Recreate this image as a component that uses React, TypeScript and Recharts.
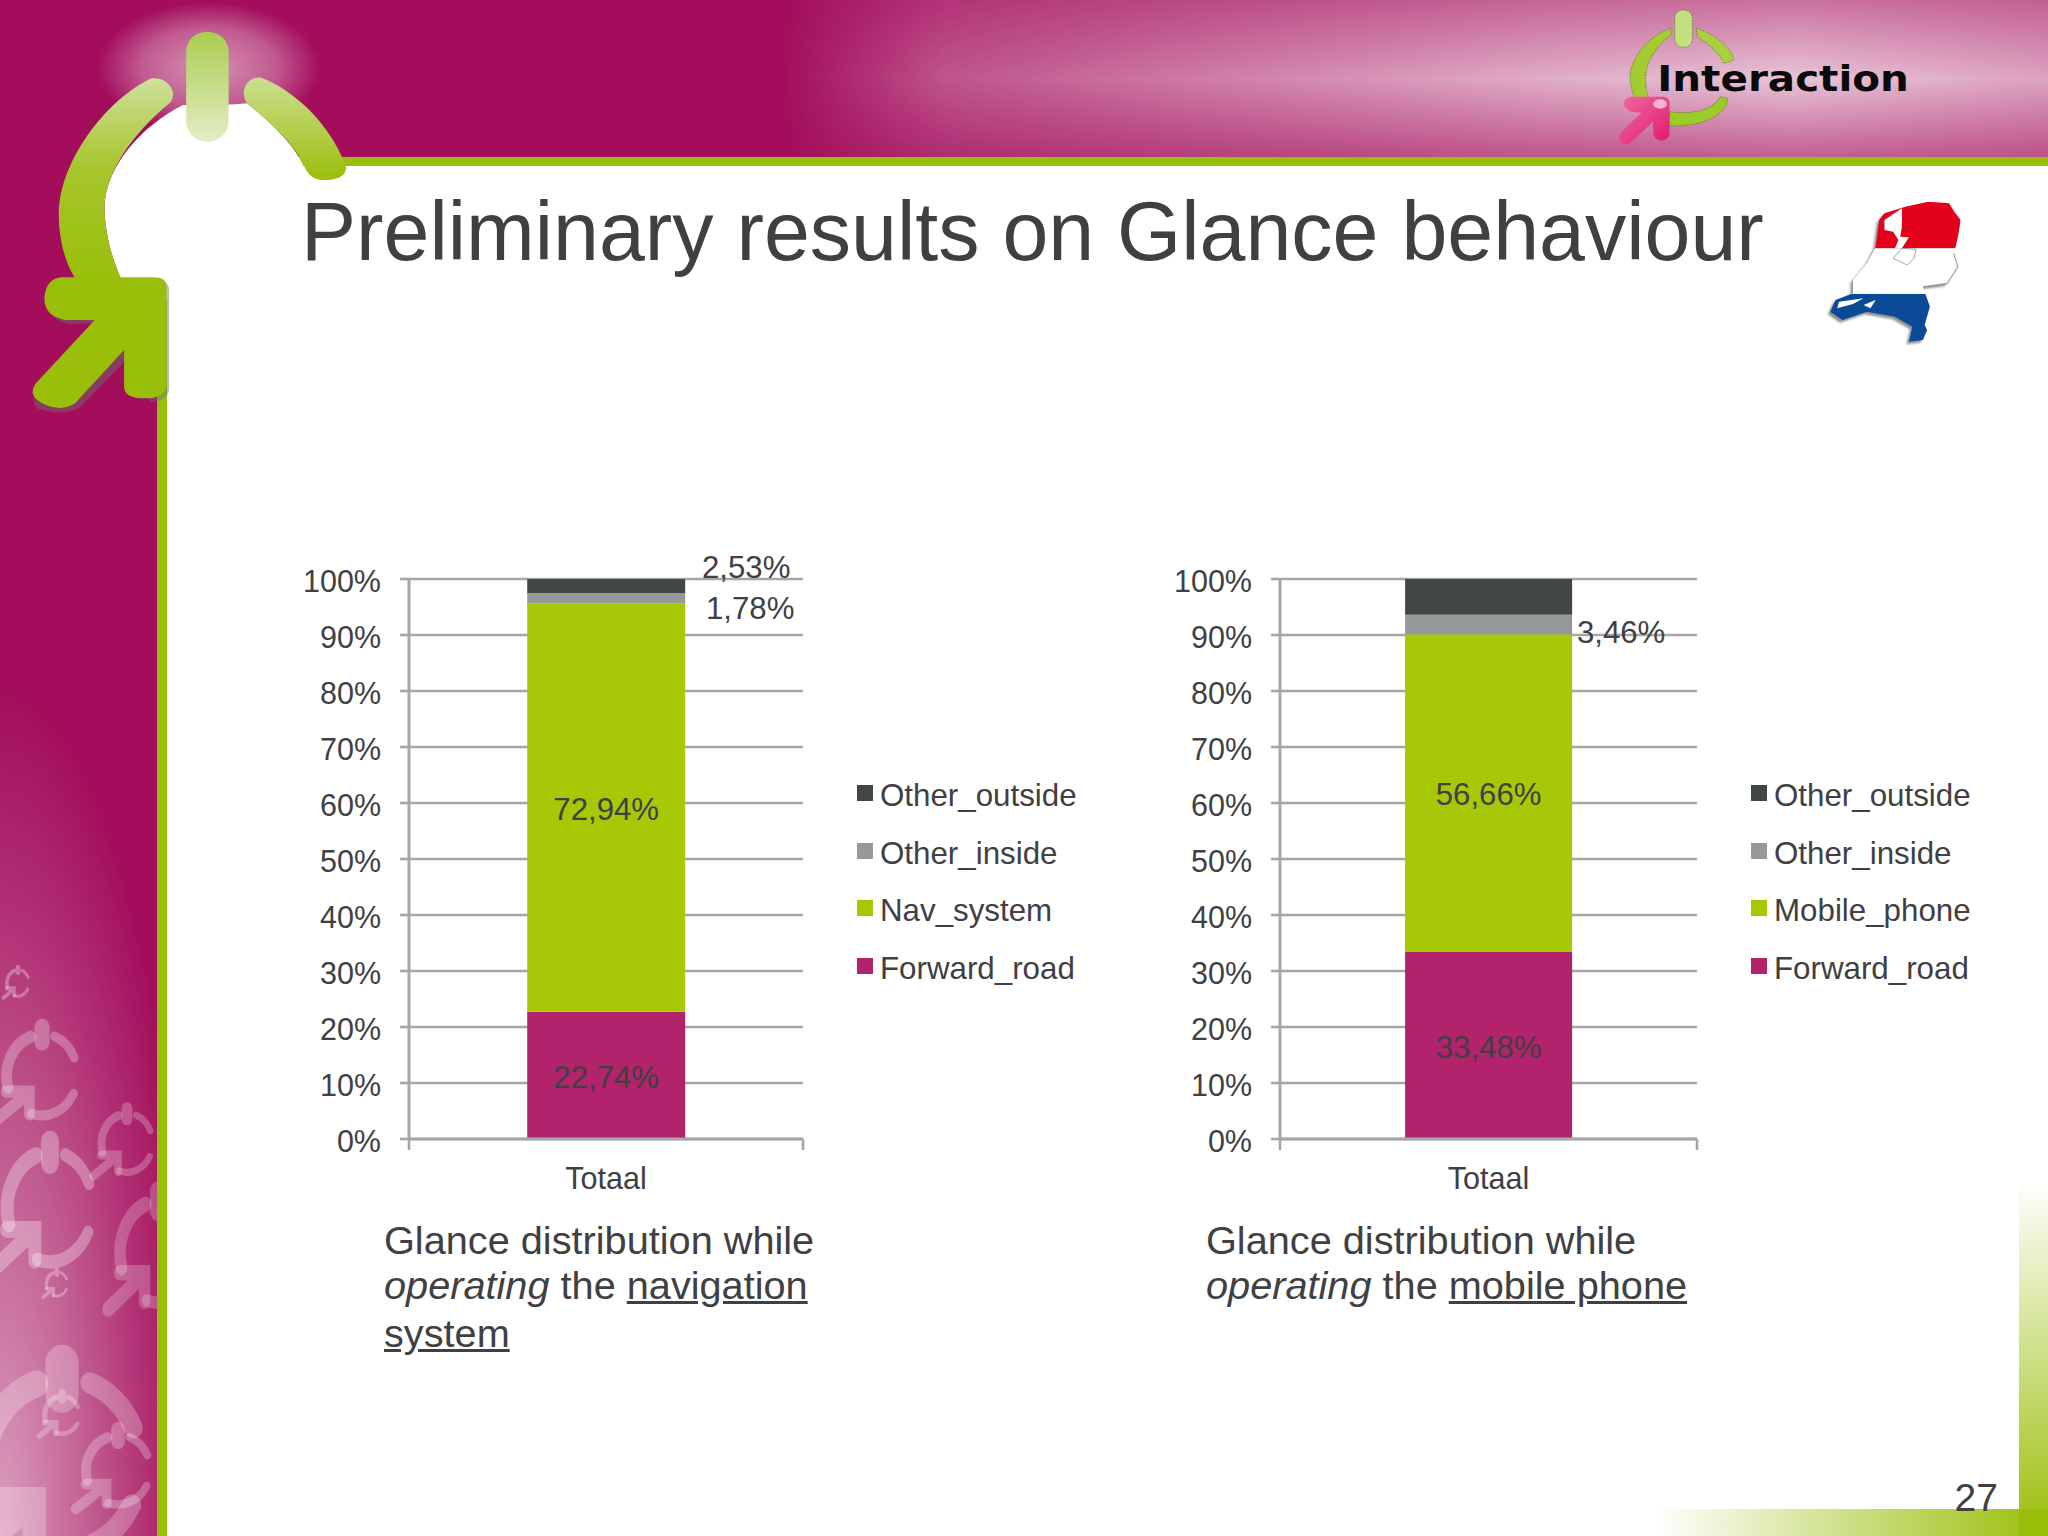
import React from "react";
import { BarChart, Bar, XAxis, YAxis, CartesianGrid, LabelList } from "recharts";

const categories = ["Totaal"];
const navForward = [22.74];
const navSystem = [72.94];
const navInside = [1.78];
const navOutside = [2.53];
const phoneForward = [33.48];
const phoneMobile = [56.66];
const phoneInside = [3.46];
const phoneOutside = [6.4];
const yTicks = [0, 10, 20, 30, 40, 50, 60, 70, 80, 90, 100];

const FONT = '"Liberation Sans", Arial, sans-serif';
const TEXT = "#404043";
const AXIS = "#a6a6a8";
const MAGENTA = "#a30d5b";
const GREEN = "#9abf0a";
const COLORS = { forward: "#b2236b", main: "#a6c807", inside: "#95999a", outside: "#414647" };

const rows = (forward: number[], main: number[], inside: number[], outside: number[]) =>
  categories.map((name, i) => ({ name, forward: forward[i], main: main[i], inside: inside[i], outside: outside[i] }));

const pct = (v: number) => v.toFixed(2).replace(".", ",") + "%";

function SegmentLabel(props: any) {
  const { x, y, width, height, value, dx = 0, dy = 2 } = props;
  return (
    <text
      x={x + width / 2 + dx}
      y={y + height / 2 + dy}
      textAnchor="middle"
      dominantBaseline="central"
      fill={TEXT}
      fontFamily={FONT}
      fontSize={31.2}
    >
      {pct(value)}
    </text>
  );
}

function YTick(props: any) {
  const { x, y, payload } = props;
  return (
    <text x={x} y={y + 2} textAnchor="end" dominantBaseline="central" fill={TEXT} fontFamily={FONT} fontSize={30.5}>
      {payload.value + "%"}
    </text>
  );
}

function XTick(props: any) {
  const { x, payload, band, axisY } = props;
  return (
    <g>
      <line x1={x - band / 2} x2={x - band / 2} y1={axisY} y2={axisY + 11} stroke={AXIS} strokeWidth={2.6} />
      <line x1={x + band / 2} x2={x + band / 2} y1={axisY} y2={axisY + 11} stroke={AXIS} strokeWidth={2.6} />
      <text x={x} y={axisY + 39} textAnchor="middle" dominantBaseline="central" fill={TEXT} fontFamily={FONT} fontSize={30.5}>
        {payload.value}
      </text>
    </g>
  );
}

function LegendBox({ items, left, top }: { items: { name: string; color: string }[]; left: number; top: number }) {
  return (
    <div style={{ position: "absolute", left, top, fontFamily: FONT, fontSize: 31.3, color: TEXT }}>
      {items.map((it) => (
        <div key={it.name} style={{ position: "relative", height: 57.6, width: 240, whiteSpace: "nowrap" }}>
          <span style={{ position: "absolute", left: 0, top: 0, width: 16, height: 16, background: it.color }} />
          <span style={{ position: "absolute", left: 23, top: -7, lineHeight: "36px" }}>{it.name}</span>
        </div>
      ))}
    </div>
  );
}

type ChartProps = {
  left: number;
  plotLeft: number;
  plotRight: number;
  data: any[];
  mainName: string;
  legendLeft: number;
  labelShift: { inside?: [number, number]; outside?: [number, number] };
  showInside: boolean;
  showOutside: boolean;
};

const TOP = 540;
const PLOT_TOP = 579;
const PLOT_BOTTOM = 1139;
const HEIGHT = 680;

function StackChart({ left, plotLeft, plotRight, data, mainName, legendLeft, labelShift, showInside, showOutside }: ChartProps) {
  const yAxisWidth = plotLeft - left;
  const width = plotRight - left + 2;
  const legendItems = [
    { name: "Other_outside", color: COLORS.outside },
    { name: "Other_inside", color: COLORS.inside },
    { name: mainName, color: COLORS.main },
    { name: "Forward_road", color: COLORS.forward },
  ];
  return (
    <div style={{ position: "absolute", left, top: TOP }}>
      <BarChart
        width={width + 300}
        height={HEIGHT}
        data={data}
        margin={{ top: PLOT_TOP - TOP, right: 302, bottom: HEIGHT - (PLOT_BOTTOM - TOP) - 60, left: 0 }}
        barCategoryGap="30%"
        style={{ overflow: "visible" }}
      >
        <CartesianGrid horizontal vertical={false} stroke={AXIS} strokeWidth={2.6} />
        <XAxis
          dataKey="name"
          height={60}
          axisLine={{ stroke: AXIS, strokeWidth: 3 }}
          tickLine={false}
          tick={(p: any) => <XTick {...p} band={plotRight - plotLeft} axisY={PLOT_BOTTOM - TOP} />}
        />
        <YAxis
          domain={[0, 100]}
          ticks={yTicks}
          width={yAxisWidth}
          axisLine={{ stroke: AXIS, strokeWidth: 3 }}
          tickLine={{ stroke: AXIS, strokeWidth: 2.6 }}
          tickSize={9}
          tickMargin={19}
          tick={(p: any) => <YTick {...p} />}
        />
        <Bar dataKey="forward" name="Forward_road" stackId="a" fill={COLORS.forward} isAnimationActive={false}>
          <LabelList dataKey="forward" content={(p: any) => <SegmentLabel {...p} />} />
        </Bar>
        <Bar dataKey="main" name={mainName} stackId="a" fill={COLORS.main} isAnimationActive={false}>
          <LabelList dataKey="main" content={(p: any) => <SegmentLabel {...p} />} />
        </Bar>
        <Bar dataKey="inside" name="Other_inside" stackId="a" fill={COLORS.inside} isAnimationActive={false}>
          {showInside && (
            <LabelList
              dataKey="inside"
              content={(p: any) => <SegmentLabel {...p} dx={labelShift.inside?.[0]} dy={labelShift.inside?.[1]} />}
            />
          )}
        </Bar>
        <Bar dataKey="outside" name="Other_outside" stackId="a" fill={COLORS.outside} isAnimationActive={false}>
          {showOutside && (
            <LabelList
              dataKey="outside"
              content={(p: any) => <SegmentLabel {...p} dx={labelShift.outside?.[0]} dy={labelShift.outside?.[1]} />}
            />
          )}
        </Bar>
      </BarChart>
      <LegendBox items={legendItems} left={legendLeft - left} top={785 - TOP} />
    </div>
  );
}

function WaterIcon({ cx, cy, w, h, op }: { cx: number; cy: number; w: number; h: number; op: number }) {
  return (
    <g transform={`translate(${cx} ${cy}) scale(${w / 2.4} ${h / 2.6})`} fill="none" stroke="#ffffff" strokeOpacity={op} strokeLinecap="round">
      <path d="M -0.32 -0.92 A 1 1 0 0 0 -0.95 0.3" strokeWidth={0.3} />
      <path d="M -0.3 0.93 A 1 1 0 0 0 0.88 0.45" strokeWidth={0.24} />
      <path d="M 0.35 -0.93 A 1 1 0 0 1 0.9 -0.42" strokeWidth={0.24} />
      <path d="M 0 -1.15 V -0.8" strokeWidth={0.42} />
      <path d="M -1.0 0.4 H -0.35 V 0.95 M -0.4 0.45 L -1.3 1.1" strokeWidth={0.3} />
    </g>
  );
}

function Decor() {
  const nl =
    "M1100 640 L1160 620 L1225 605 L1285 610 L1300 635 L1318 660 L1312 700 L1305 735 L1298 760 L1310 800 L1280 850 L1210 860 L1230 920 L1215 975 L1222 990 L1210 1020 L1170 1025 L1180 980 L1130 950 L1050 935 L980 960 L945 935 L960 900 L1010 880 L1010 840 L1050 790 L1075 740 L1085 660 Z";
  return (
    <svg width={2048} height={1536} style={{ position: "absolute", left: 0, top: 0 }}>
      <defs>
        <linearGradient id="hdrH" x1="780" x2="2048" y1="0" y2="0" gradientUnits="userSpaceOnUse">
          <stop offset="0" stopColor="#fff" stopOpacity={0} />
          <stop offset="0.13" stopColor="#fff" stopOpacity={0.3} />
          <stop offset="0.33" stopColor="#fff" stopOpacity={0.46} />
          <stop offset="0.6" stopColor="#fff" stopOpacity={0.66} />
          <stop offset="0.8" stopColor="#fff" stopOpacity={0.76} />
          <stop offset="1" stopColor="#fff" stopOpacity={0.62} />
        </linearGradient>
        <linearGradient id="hdrV" x1="0" x2="0" y1="0" y2="157" gradientUnits="userSpaceOnUse">
          <stop offset="0" stopColor="#fff" stopOpacity={0.55} />
          <stop offset="0.5" stopColor="#fff" stopOpacity={1} />
          <stop offset="1" stopColor="#fff" stopOpacity={0.45} />
        </linearGradient>
        <mask id="hdrMask" maskUnits="userSpaceOnUse" x="0" y="0" width="2048" height="157">
          <rect x={0} y={0} width={2048} height={157} fill="url(#hdrV)" />
        </mask>
        <radialGradient id="glow">
          <stop offset="0" stopColor="#fff" stopOpacity={0.55} />
          <stop offset="0.6" stopColor="#fff" stopOpacity={0.32} />
          <stop offset="1" stopColor="#fff" stopOpacity={0} />
        </radialGradient>
        <radialGradient id="sideGlow" cx="0" cy="1536" r="1" gradientUnits="userSpaceOnUse" gradientTransform="translate(0 1536) scale(200 850) translate(0 -1536)">
          <stop offset="0" stopColor="#fff" stopOpacity={0.6} />
          <stop offset="0.4" stopColor="#fff" stopOpacity={0.36} />
          <stop offset="0.75" stopColor="#fff" stopOpacity={0.14} />
          <stop offset="1" stopColor="#fff" stopOpacity={0} />
        </radialGradient>
        <linearGradient id="arcL" x1="0" x2="0" y1="235" y2="835" gradientUnits="userSpaceOnUse">
          <stop offset="0" stopColor="#cfe09a" />
          <stop offset="0.45" stopColor="#a6c62c" />
          <stop offset="1" stopColor={GREEN} />
        </linearGradient>
        <linearGradient id="arcR" x1="0" x2="0" y1="233" y2="540" gradientUnits="userSpaceOnUse">
          <stop offset="0" stopColor="#cbde90" />
          <stop offset="1" stopColor={GREEN} />
        </linearGradient>
        <linearGradient id="stem" x1="0" x2="0" y1="95" y2="425" gradientUnits="userSpaceOnUse">
          <stop offset="0" stopColor="#a9cc50" />
          <stop offset="1" stopColor="#e4edc6" />
        </linearGradient>
        <linearGradient id="cornerV" x1="0" x2="0" y1="1180" y2="1536" gradientUnits="userSpaceOnUse">
          <stop offset="0" stopColor={GREEN} stopOpacity={0} />
          <stop offset="1" stopColor={GREEN} stopOpacity={1} />
        </linearGradient>
        <linearGradient id="cornerH" x1="1655" x2="2048" y1="0" y2="0" gradientUnits="userSpaceOnUse">
          <stop offset="0" stopColor={GREEN} stopOpacity={0} />
          <stop offset="1" stopColor={GREEN} stopOpacity={1} />
        </linearGradient>
        <clipPath id="sideClip">
          <rect x={0} y={600} width={157} height={936} />
        </clipPath>
        <clipPath id="nlClip">
          <path d={nl} />
        </clipPath>
        <filter id="soft" x="-10%" y="-10%" width="120%" height="120%">
          <feGaussianBlur stdDeviation="3" />
        </filter>
        <linearGradient id="pinkArrow" x1="0" x2="1" y1="0" y2="1">
          <stop offset="0" stopColor="#f06aa0" />
          <stop offset="1" stopColor="#e01a70" />
        </linearGradient>
      </defs>

      <rect width={2048} height={1536} fill={MAGENTA} />
      <rect x={780} y={0} width={1268} height={157} fill="url(#hdrH)" mask="url(#hdrMask)" />
      <ellipse cx={209} cy={68} rx={112} ry={66} fill="url(#glow)" />
      <rect x={0} y={600} width={157} height={936} fill="url(#sideGlow)" />
      <g clipPath="url(#sideClip)">
        <WaterIcon cx={18} cy={983} w={27} h={35} op={0.3} />
        <WaterIcon cx={42} cy={1075} w={86} h={108} op={0.27} />
        <WaterIcon cx={50} cy={1207} w={104} h={146} op={0.3} />
        <WaterIcon cx={127} cy={1143} w={62} h={78} op={0.24} />
        <WaterIcon cx={57} cy={1284} w={26} h={32} op={0.3} />
        <WaterIcon cx={158} cy={1252} w={92} h={135} op={0.22} />
        <WaterIcon cx={62} cy={1415} w={42} h={50} op={0.26} />
        <WaterIcon cx={118} cy={1470} w={78} h={92} op={0.26} />
        <WaterIcon cx={62} cy={1465} w={190} h={230} op={0.25} />
      </g>

      <rect x={157} y={157} width={1891} height={9} fill={GREEN} />
      <rect x={157} y={157} width={10} height={1379} fill={GREEN} />
      <rect x={167} y={166} width={1881} height={1370} fill="#fff" />
      <rect x={2019} y={1180} width={29} height={356} fill="url(#cornerV)" />
      <rect x={1655} y={1509} width={393} height={27} fill="url(#cornerH)" />

      <g transform="scale(0.6532 0.3333)">
        <path
          d="M185 835 C170 770 160 690 160 620 C162 500 215 380 280 315 C310 316 345 316 378 310 C410 360 450 430 465 500 L470 900 L185 900 Z"
          fill="#fff"
        />
        <path d="M58 1226 Q44 1200 62 1160 L150 970 L106 972 Q74 962 74 905 Q76 845 101 842 L241 842 Q259 842 259 870 L259 1170 Q256 1205 230 1205 L198 1070 L123 1222 Q100 1250 58 1226 Z" fill="#6f6f72" opacity={0.45} />
        <path d="M232 235 C170 290 92 470 90 640 C90 720 100 790 115 835 L185 835 C170 770 160 690 160 620 C162 500 215 380 262 305 C272 270 255 230 232 235 Z" fill="url(#arcL)" />
        <path d="M400 233 C450 270 505 370 530 500 C530 530 515 540 495 540 C478 540 470 520 465 495 C450 430 410 360 378 310 C365 270 380 228 400 233 Z" fill="url(#arcR)" />
        <rect x={285} y={95} width={65} height={330} rx={32} ry={60} fill="url(#stem)" />
        <path d="M95 832 L235 832 Q255 832 255 860 L255 1160 Q250 1195 222 1195 Q190 1195 190 1160 L190 1050 L115 1210 Q95 1235 70 1215 Q40 1190 55 1150 L145 960 L100 960 Q68 950 68 895 Q70 835 95 832 Z" fill={GREEN} />
      </g>

      <g transform="translate(1500 0) scale(0.3495 0.3333)">
        <path d="M488 85 C420 110 372 180 372 230 C372 250 378 275 385 295 L425 295 C415 265 415 235 420 205 C430 165 460 125 490 105 Z" fill="#a2cc30" stroke="#5f7f20" strokeWidth={2} strokeDasharray="6 3" />
        <path d="M562 85 C610 100 660 140 670 180 L640 190 C625 155 590 125 565 112 Z" fill="#a8d040" stroke="#5f7f20" strokeWidth={2} strokeDasharray="6 3" />
        <path d="M485 335 C550 345 610 330 630 290 L652 295 C650 340 590 380 485 378 Z" fill="#9acb28" stroke="#5f7f20" strokeWidth={2} strokeDasharray="6 3" />
        <rect x={500} y={30} width={50} height={112} rx={24} ry={24} fill="#c2e080" stroke="#5f7f20" strokeWidth={2} strokeDasharray="6 3" />
        <path d="M375 290 L470 290 Q485 295 485 310 L485 405 Q480 422 460 422 Q440 418 438 400 L438 365 L372 430 Q355 440 342 420 Q336 405 350 392 L405 338 L375 335 Q355 325 355 310 Q358 292 375 290 Z" fill="url(#pinkArrow)" />
        <ellipse cx={458} cy={312} rx={20} ry={14} fill="#fff" opacity={0.6} />
        <text x={450} y={272} fontFamily='"DejaVu Sans", sans-serif' fontWeight={700} fontSize={108} fill="#0a0a0a" textLength={720} lengthAdjust="spacingAndGlyphs">
          Interaction
        </text>

        <path d={nl} transform="translate(-7 8)" fill="#444" opacity={0.6} filter="url(#soft)" />
        <g clipPath="url(#nlClip)">
          <rect x={900} y={590} width={450} height={155} fill="#e2001a" />
          <rect x={900} y={745} width={450} height={137} fill="#ffffff" />
          <rect x={900} y={882} width={450} height={160} fill="#0b4a96" />
          <path d="M1100 690 L1100 660 L1150 625 L1150 680 L1145 710 L1170 712 L1150 745 L1130 745 L1140 720 L1125 695 Z" fill="#fff" />
          <path d="M970 905 L1040 895 L1010 912 L965 925 Z" fill="#fff" />
          <path d="M1040 915 L1075 900 L1060 925 Z" fill="#fff" />
        </g>
        <path d="M1125 775 L1150 745 L1190 748 L1185 775 L1165 795 Z" fill="none" stroke="#777" strokeWidth={2} />
        <path d="M1298 760 L1310 800 L1280 850 L1210 860" fill="none" stroke="#999" strokeWidth={3} />
      </g>

      <text x={301} y={260} fontFamily={FONT} fontSize={82.5} fill={TEXT}>
        Preliminary results on Glance behaviour
      </text>
      <text x={1998} y={1511} textAnchor="end" fontFamily={FONT} fontSize={39} fill={TEXT}>
        27
      </text>
    </svg>
  );
}

const CAPTION_TOPS = [1217, 1262, 1310];

function Caption({ left, lines }: { left: number; lines: React.ReactNode[] }) {
  return (
    <div style={{ fontFamily: FONT, fontSize: 39.7, lineHeight: "47px", color: TEXT, whiteSpace: "nowrap" }}>
      {lines.map((l, i) => (
        <div key={i} style={{ position: "absolute", left, top: CAPTION_TOPS[i] }}>
          {l}
        </div>
      ))}
    </div>
  );
}

export default function App() {
  return (
    <div style={{ position: "absolute", left: 0, top: 0, width: 2048, height: 1536, overflow: "hidden", background: "#fff" }}>
      <Decor />
      <StackChart
        left={290}
        plotLeft={409}
        plotRight={803}
        data={rows(navForward, navSystem, navInside, navOutside)}
        mainName="Nav_system"
        legendLeft={857}
        labelShift={{ inside: [144, 10], outside: [140, -19] }}
        showInside
        showOutside
      />
      <StackChart
        left={1161}
        plotLeft={1280}
        plotRight={1697}
        data={rows(phoneForward, phoneMobile, phoneInside, phoneOutside)}
        mainName="Mobile_phone"
        legendLeft={1751}
        labelShift={{ inside: [132.5, 8] }}
        showInside
        showOutside={false}
      />
      <Caption
        left={384}
        lines={[
          "Glance distribution while",
          <>
            <i>operating</i> the <u>navigation</u>
          </>,
          <u>system</u>,
        ]}
      />
      <Caption
        left={1206}
        lines={[
          "Glance distribution while",
          <>
            <i>operating</i> the <u>mobile phone</u>
          </>,
        ]}
      />
    </div>
  );
}
